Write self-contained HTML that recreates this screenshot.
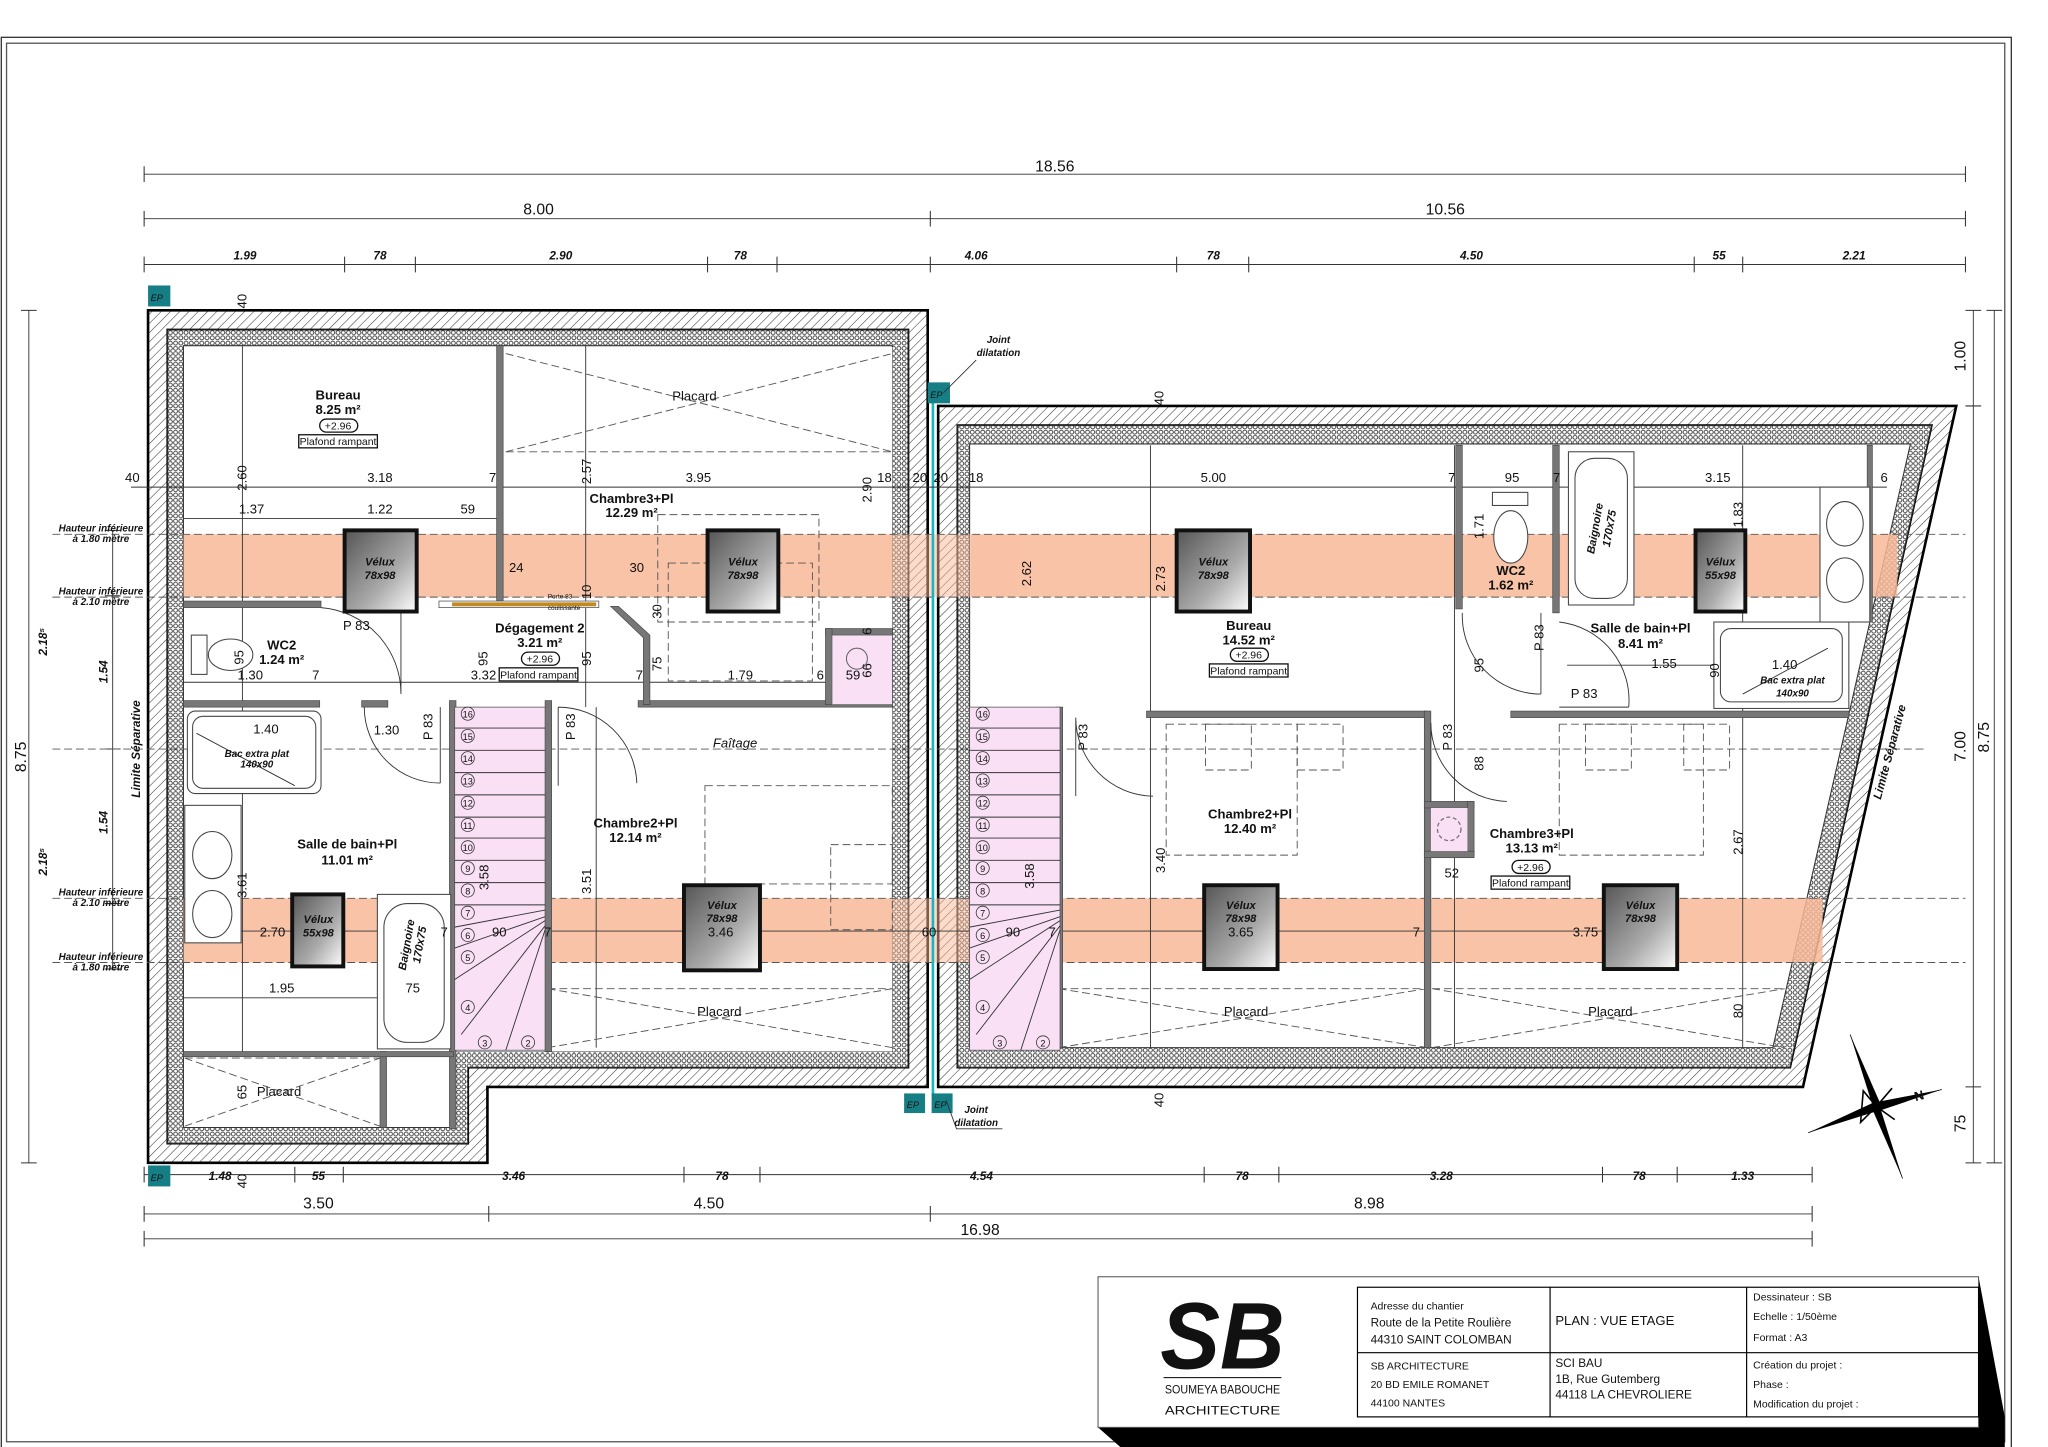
<!DOCTYPE html>
<html><head><meta charset="utf-8"><style>
html,body{margin:0;padding:0;background:#fff;}
svg{display:block;}
text{font-family:"Liberation Sans Narrow","Liberation Sans",sans-serif;fill:#111;}
.d{font-size:10px;}
.dl{font-size:12px;}
.di{font-size:9px;font-style:italic;font-weight:bold;}
.r{font-size:10px;font-weight:bold;}
.h{font-size:7.5px;font-style:italic;font-weight:bold;}
.v{font-size:8.5px;font-style:italic;font-weight:bold;fill:#111;}
.thin{stroke:#333;stroke-width:0.7;fill:none;}
.dash{stroke:#555;stroke-width:0.7;fill:none;stroke-dasharray:6 3;}
.wall{fill:#777;stroke:#444;stroke-width:0.5;}
.t{font-size:9px;font-family:"Liberation Sans",sans-serif;}
</style></head><body>
<svg width="2048" height="1447" viewBox="0 0 1563 1105" preserveAspectRatio="none" xmlns="http://www.w3.org/2000/svg">
<defs>
<pattern id="hat" width="5" height="5" patternUnits="userSpaceOnUse" patternTransform="rotate(45)">
<rect width="5" height="5" fill="#fff"/><line x1="0" y1="0" x2="0" y2="5" stroke="#333" stroke-width="0.8"/></pattern>
<pattern id="ins" width="4" height="4" patternUnits="userSpaceOnUse">
<rect width="4" height="4" fill="#fff"/><circle cx="2" cy="2" r="1.5" fill="none" stroke="#333" stroke-width="0.7"/></pattern>
<linearGradient id="vg" x1="0" y1="0" x2="1" y2="1"><stop offset="0" stop-color="#555"/><stop offset="0.6" stop-color="#aaa"/><stop offset="1" stop-color="#fff"/></linearGradient>
</defs>
<!-- frame -->
<rect x="1" y="28.5" width="1534" height="1078" fill="none" stroke="#333" stroke-width="1"/>
<rect x="5" y="33" width="1525" height="1068" fill="none" stroke="#555" stroke-width="1"/>

<!-- top dimensions -->
<g class="thin">
<line x1="110" y1="133" x2="1500" y2="133"/>
<line x1="110" y1="167" x2="1500" y2="167"/>
<line x1="110" y1="202" x2="1500" y2="202"/>
<line x1="110" y1="897" x2="1383" y2="897"/>
<line x1="110" y1="927" x2="1383" y2="927"/>
<line x1="110" y1="946" x2="1383" y2="946"/>
<line x1="22" y1="237" x2="22" y2="888"/>
<line x1="86" y1="405" x2="86" y2="740"/>
<line x1="1522" y1="237" x2="1522" y2="888"/>
<line x1="1506" y1="237" x2="1506" y2="888"/>
</g>
<g stroke="#333" stroke-width="0.8">
<path d="M110 127v12M1500 127v12M110 161v12M710 161v12M1500 161v12"/>
<path d="M110 196v12M263 196v12M317 196v12M540 196v12M593 196v12M710 196v12M898 196v12M953 196v12M1293 196v12M1330 196v12M1500 196v12"/>
<path d="M110 891v12M225 891v12M262 891v12M522 891v12M580 891v12M919 891v12M976 891v12M1223 891v12M1280 891v12M1383 891v12"/>
<path d="M110 921v12M373 921v12M710 921v12M1383 921v12M110 940v12M1383 940v12"/>
<path d="M16 237h12M16 888h12M80 405h12M80 455h12M80 572h12M80 690h12M80 740h12M1516 237h12M1516 888h12M1500 237h12M1500 310h12M1500 830h12M1500 888h12"/>
</g>
<text class="dl" x="805" y="131" text-anchor="middle">18.56</text>
<text class="dl" x="411" y="164" text-anchor="middle">8.00</text>
<text class="dl" x="1103" y="164" text-anchor="middle">10.56</text>
<g class="di" text-anchor="middle">
<text x="187" y="198">1.99</text><text x="290" y="198">78</text><text x="428" y="198">2.90</text><text x="565" y="198">78</text><text x="745" y="198">4.06</text><text x="926" y="198">78</text><text x="1123" y="198">4.50</text><text x="1312" y="198">55</text><text x="1415" y="198">2.21</text>
<text x="168" y="901">1.48</text><text x="243" y="901">55</text><text x="392" y="901">3.46</text><text x="551" y="901">78</text><text x="749" y="901">4.54</text><text x="948" y="901">78</text><text x="1100" y="901">3.28</text><text x="1251" y="901">78</text><text x="1330" y="901">1.33</text>
</g>
<text class="dl" x="243" y="923" text-anchor="middle">3.50</text>
<text class="dl" x="541" y="923" text-anchor="middle">4.50</text>
<text class="dl" x="1045" y="923" text-anchor="middle">8.98</text>
<text class="dl" x="748" y="943" text-anchor="middle">16.98</text>
<text class="dl" transform="translate(20,578) rotate(-90)" text-anchor="middle">8.75</text>
<text class="dl" transform="translate(1518,563) rotate(-90)" text-anchor="middle">8.75</text>
<text class="dl" transform="translate(1500,272) rotate(-90)" text-anchor="middle">1.00</text>
<text class="dl" transform="translate(1500,570) rotate(-90)" text-anchor="middle">7.00</text>
<text class="dl" transform="translate(1500,858) rotate(-90)" text-anchor="middle">75</text>
<g class="di" text-anchor="middle">
<text transform="translate(36,490) rotate(-90)">2.18⁵</text>
<text transform="translate(36,658) rotate(-90)">2.18⁵</text>
<text transform="translate(82,513) rotate(-90)">1.54</text>
<text transform="translate(82,628) rotate(-90)">1.54</text>
<text transform="translate(107,572) rotate(-90)">Limite Séparative</text>
<text transform="translate(1445,575) rotate(-75)">Limite Séparative</text>
</g>
<g class="h" text-anchor="middle">
<text x="77" y="406">Hauteur inférieure</text><text x="77" y="414">à 1.80 mètre</text>
<text x="77" y="454">Hauteur inférieure</text><text x="77" y="462">à 2.10 mètre</text>
<text x="77" y="684">Hauteur inférieure</text><text x="77" y="692">à 2.10 mètre</text>
<text x="77" y="733">Hauteur inférieure</text><text x="77" y="741">à 1.80 mètre</text>
</g>

<!-- walls -->
<path fill="url(#hat)" stroke="#000" stroke-width="2" fill-rule="evenodd" d="M113 237H708V830H372V888H113Z M128 252H693V815H357V873H128Z"/>
<path fill="url(#ins)" stroke="#333" stroke-width="0.8" fill-rule="evenodd" d="M128 252H693V815H357V873H128Z M140 264H681V803H346V861H140Z"/>
<path fill="url(#hat)" stroke="#000" stroke-width="2" fill-rule="evenodd" d="M716 310H1493L1376 830H716Z M731 325H1474L1366 815H731Z"/>
<path fill="url(#ins)" stroke="#333" stroke-width="0.8" fill-rule="evenodd" d="M731 325H1474L1366 815H731Z M740 339H1458L1353 800H740Z"/>
<rect x="141" y="265" width="540" height="538" fill="#fff"/>
<rect x="141" y="803" width="205" height="57" fill="#fff"/>
<path d="M741 340H1457L1352 799H741Z" fill="#fff"/>

<!-- salmon bands -->
<g fill="#f8b898" opacity="0.85">
<rect x="140" y="408" width="541" height="48"/><rect x="140" y="686" width="541" height="49"/>
<rect x="681" y="408" width="60" height="48" opacity="0.6"/><rect x="681" y="686" width="60" height="49" opacity="0.6"/>
<rect x="741" y="408" width="707" height="48"/><rect x="741" y="686" width="650" height="49"/>
</g>
<!-- dashed lines -->
<g class="dash">
<line x1="40" y1="408" x2="1500" y2="408"/><line x1="40" y1="456" x2="1500" y2="456"/>
<line x1="40" y1="686" x2="1500" y2="686"/><line x1="40" y1="735" x2="1500" y2="735"/>
<line x1="40" y1="572" x2="1470" y2="572"/>
</g>
<!-- joint -->
<line x1="712" y1="296" x2="712" y2="836" stroke="#19b5c0" stroke-width="2"/>
<g fill="#157f85">
<rect x="113" y="218" width="17" height="16"/><rect x="708" y="292" width="17" height="16"/><rect x="690" y="835" width="16" height="15"/><rect x="711" y="835" width="16" height="15"/><rect x="113" y="890" width="17" height="16"/>
</g>
<g font-size="7" font-style="italic" fill="#000"><text x="115" y="230">EP</text><text x="710" y="304">EP</text><text x="692" y="846">EP</text><text x="713" y="846">EP</text><text x="115" y="902">EP</text></g>
<g class="h" font-size="8"><text x="762" y="262" text-anchor="middle">Joint</text><text x="762" y="272" text-anchor="middle">dilatation</text>
<text x="745" y="850" text-anchor="middle">Joint</text><text x="745" y="860" text-anchor="middle">dilatation</text></g>
<path d="M745 275L720 300M722 840L730 862H765" class="thin"/>

<!-- thin dimension lines inside -->
<g class="thin">
<line x1="100" y1="372" x2="700" y2="372"/><line x1="700" y1="372" x2="1440" y2="372"/>
<line x1="140" y1="396" x2="380" y2="396"/>
<line x1="140" y1="521" x2="630" y2="521"/>
<line x1="140" y1="711" x2="1260" y2="711"/>
<line x1="140" y1="762" x2="345" y2="762"/>
<line x1="185" y1="264" x2="185" y2="803"/><line x1="372" y1="540" x2="372" y2="800"/>
<line x1="447" y1="264" x2="447" y2="540"/><line x1="455" y1="540" x2="455" y2="800"/>
<line x1="1110" y1="340" x2="1110" y2="800"/>
<line x1="878" y1="340" x2="878" y2="800"/>
<line x1="1330" y1="340" x2="1330" y2="800"/>
<line x1="1196" y1="508" x2="1411" y2="508"/>
</g>

<!-- placards X -->
<g class="dash" stroke-dasharray="5 2 1 2">
<path d="M386 270L681 345M386 345L681 270M386 345H681"/>
<path d="M418 755L681 800M418 800L681 755M418 755H681"/>
<path d="M141 808L290 860M141 860L290 808M141 808H290"/>
<path d="M808 755L1089 800M808 800L1089 755M808 755H1089"/>
<path d="M1093 755L1362 800M1093 800L1362 755M1093 755H1362"/>
</g>
<g class="d" text-anchor="middle"><text x="530" y="306">Placard</text><text x="549" y="776">Placard</text><text x="213" y="837">Placard</text><text x="951" y="776">Placard</text><text x="1229" y="776">Placard</text></g>

<!-- beds dashed -->
<g class="dash" stroke-dasharray="4 3">
<rect x="502" y="393" width="123" height="82"/><rect x="510" y="430" width="110" height="90"/>
<rect x="538" y="600" width="143" height="75"/><rect x="634" y="645" width="47" height="65"/>
<rect x="890" y="553" width="100" height="100"/><rect x="920" y="553" width="35" height="35"/><rect x="990" y="553" width="35" height="35"/>
<rect x="1190" y="553" width="110" height="100"/><rect x="1210" y="553" width="35" height="35"/><rect x="1285" y="553" width="35" height="35"/>
</g>

<!-- interior walls -->
<g class="wall">
<rect x="379" y="264" width="5" height="195"/>
<rect x="140" y="459" width="105" height="5"/>
<rect x="140" y="535" width="104" height="5"/>
<rect x="276" y="535" width="20" height="5"/>
<rect x="343" y="535" width="5" height="327"/>
<rect x="416" y="535" width="5" height="268"/>
<rect x="487" y="535" width="194" height="5"/>
<path d="M466 463L472 463L496 485L496 538L491 538L491 487Z"/>
<rect x="630" y="480" width="51" height="5"/><rect x="630" y="480" width="5" height="58"/>
<rect x="290" y="803" width="5" height="58"/><rect x="140" y="803" width="206" height="4"/>
<rect x="806" y="540" width="5" height="260"/>
<rect x="875" y="543" width="214" height="5"/><rect x="1087" y="543" width="5" height="257"/>
<rect x="1153" y="543" width="258" height="5"/>
<rect x="1111" y="340" width="5" height="125"/><rect x="1185" y="340" width="5" height="128"/>
<rect x="1425" y="340" width="4" height="135"/>
<rect x="1087" y="612" width="38" height="5"/><rect x="1120" y="612" width="5" height="42"/><rect x="1087" y="650" width="38" height="5"/>
</g>
<rect x="635" y="485" width="46" height="53" fill="#f9e0f5" stroke="#666" stroke-width="0.5"/>
<circle cx="654" cy="503" r="8" fill="none" stroke="#666" stroke-width="0.8"/>
<rect x="1092" y="617" width="28" height="33" fill="#f9e0f5"/>
<circle cx="1106" cy="633" r="9" fill="none" stroke="#777" stroke-dasharray="3 2"/>
<!-- sliding door -->
<rect x="335" y="459" width="122" height="5" fill="#fff" stroke="#555" stroke-width="0.6"/>
<rect x="345" y="460" width="110" height="3" fill="#c08a20"/>
<text x="418" y="457" font-size="5">Porte 83</text><text x="418" y="466" font-size="5">coulissante</text>

<!-- doors -->
<g class="thin">
<path d="M245 464A66 66 0 0 1 306 530M306 462V530"/>
<path d="M278 540A58 58 0 0 0 336 598M336 540V598"/>
<path d="M426 540A60 60 0 0 1 486 598M426 540V600"/>
<path d="M821 548A60 60 0 0 0 880 608M821 548V608"/>
<path d="M1092 552A60 60 0 0 0 1150 612M1092 552V612"/>
<path d="M1116 468A60 60 0 0 0 1176 530M1176 468V530"/>
<path d="M1190 475A60 60 0 0 1 1243 540M1190 540H1243"/>
</g>

<!-- stairs -->
<g id="st">
<rect x="347" y="540" width="69" height="262" fill="#f9e0f5" stroke="#555" stroke-width="0.6"/>
<g class="thin" stroke="#666">
<path d="M347 556H416M347 573H416M347 590H416M347 607H416M347 624H416M347 640H416M347 657H416M347 674H416M347 691H416"/>
<path d="M416 695L347 708M416 700L347 724M416 703L347 748M416 707L352 790M416 710L386 802"/>
</g>
<g font-size="7" text-anchor="middle" fill="none" stroke="#333" stroke-width="0.6">
<circle cx="357" cy="545" r="5"/><circle cx="357" cy="562" r="5"/><circle cx="357" cy="579" r="5"/><circle cx="357" cy="596" r="5"/><circle cx="357" cy="613" r="5"/><circle cx="357" cy="630" r="5"/><circle cx="357" cy="647" r="5"/><circle cx="357" cy="663" r="5"/><circle cx="357" cy="680" r="5"/><circle cx="357" cy="697" r="5"/><circle cx="357" cy="714" r="5"/><circle cx="357" cy="731" r="5"/><circle cx="357" cy="769" r="5"/><circle cx="370" cy="796" r="5"/><circle cx="403" cy="796" r="5"/>
</g>
<g font-size="7" text-anchor="middle">
<text x="357" y="548">16</text><text x="357" y="565">15</text><text x="357" y="582">14</text><text x="357" y="599">13</text><text x="357" y="616">12</text><text x="357" y="633">11</text><text x="357" y="650">10</text><text x="357" y="666">9</text><text x="357" y="683">8</text><text x="357" y="700">7</text><text x="357" y="717">6</text><text x="357" y="734">5</text><text x="357" y="772">4</text><text x="370" y="799">3</text><text x="403" y="799">2</text>
</g>
</g>
<use href="#st" x="393" y="0"/>

<!-- sanitary left -->
<g fill="#fff" stroke="#444" stroke-width="0.8">
<rect x="143" y="543" width="102" height="63" rx="6"/><rect x="147" y="547" width="94" height="55" rx="8"/>
<rect x="141" y="615" width="43" height="105"/>
<ellipse cx="162" cy="653" rx="15" ry="18"/><ellipse cx="162" cy="698" rx="15" ry="18"/>
<rect x="288" y="683" width="56" height="118"/><rect x="293" y="690" width="46" height="106" rx="18"/>
<rect x="146" y="485" width="12" height="30"/><ellipse cx="176" cy="500" rx="17" ry="12"/>
<rect x="1308" y="475" width="103" height="66"/><rect x="1313" y="480" width="93" height="56" rx="8"/>
<rect x="1389" y="372" width="38" height="103"/>
<ellipse cx="1408" cy="400" rx="14" ry="17"/><ellipse cx="1408" cy="443" rx="14" ry="17"/>
<rect x="1197" y="345" width="50" height="117"/><rect x="1202" y="350" width="40" height="107" rx="15"/>
<rect x="1139" y="376" width="27" height="10"/><ellipse cx="1153" cy="410" rx="13" ry="20"/>
</g>
<path d="M150 560L225 600M1330 530L1395 495" class="thin"/>
<text x="196" y="578" class="h" font-size="6.5" text-anchor="middle">Bac extra plat</text><text x="196" y="586" class="h" font-size="6" text-anchor="middle">140x90</text>
<text x="1368" y="522" class="h" font-size="6.5" text-anchor="middle">Bac extra plat</text><text x="1368" y="532" class="h" font-size="6" text-anchor="middle">140x90</text>
<text class="v" transform="translate(313,722) rotate(-80)" text-anchor="middle">Baignoire</text><text class="v" transform="translate(323,722) rotate(-80)" text-anchor="middle">170x75</text>
<text class="v" transform="translate(1220,404) rotate(-80)" text-anchor="middle">Baignoire</text><text class="v" transform="translate(1231,404) rotate(-80)" text-anchor="middle">170x75</text>

<!-- velux -->
<g stroke="#111" stroke-width="3" fill="url(#vg)">
<rect x="263" y="405" width="55" height="62"/><rect x="540" y="405" width="54" height="62"/>
<rect x="223" y="683" width="39" height="55"/><rect x="522" y="676" width="58" height="65"/>
<rect x="898" y="405" width="56" height="62"/><rect x="1294" y="405" width="38" height="62"/>
<rect x="919" y="676" width="56" height="64"/><rect x="1224" y="676" width="56" height="64"/>
</g>
<g class="v" text-anchor="middle">
<text x="290" y="432">Vélux</text><text x="290" y="442">78x98</text>
<text x="567" y="432">Vélux</text><text x="567" y="442">78x98</text>
<text x="243" y="705">Vélux</text><text x="243" y="715">55x98</text>
<text x="551" y="694">Vélux</text><text x="551" y="704">78x98</text>
<text x="926" y="432">Vélux</text><text x="926" y="442">78x98</text>
<text x="1313" y="432">Vélux</text><text x="1313" y="442">55x98</text>
<text x="947" y="694">Vélux</text><text x="947" y="704">78x98</text>
<text x="1252" y="694">Vélux</text><text x="1252" y="704">78x98</text>
</g>

<!-- room labels -->
<g class="r" text-anchor="middle">
<text x="258" y="305">Bureau</text><text x="258" y="316">8.25 m²</text>
<text x="482" y="384">Chambre3+Pl</text><text x="482" y="395">12.29 m²</text>
<text x="412" y="483">Dégagement 2</text><text x="412" y="494">3.21 m²</text>
<text x="215" y="496">WC2</text><text x="215" y="507">1.24 m²</text>
<text x="265" y="648">Salle de bain+Pl</text><text x="265" y="660">11.01 m²</text>
<text x="485" y="632">Chambre2+Pl</text><text x="485" y="643">12.14 m²</text>
<text x="953" y="481">Bureau</text><text x="953" y="492">14.52 m²</text>
<text x="1153" y="439">WC2</text><text x="1153" y="450">1.62 m²</text>
<text x="1252" y="483">Salle de bain+Pl</text><text x="1252" y="495">8.41 m²</text>
<text x="954" y="625">Chambre2+Pl</text><text x="954" y="636">12.40 m²</text>
<text x="1169" y="640">Chambre3+Pl</text><text x="1169" y="651">13.13 m²</text>
</g>
<text x="561" y="571" class="d" font-style="italic" text-anchor="middle">Faîtage</text>
<g fill="#fff" stroke="#111" stroke-width="1">
<rect x="244" y="320" width="29" height="10" rx="5"/><rect x="228" y="332" width="60" height="10"/>
<rect x="398" y="498" width="29" height="10" rx="5"/><rect x="381" y="510" width="60" height="10"/>
<rect x="939" y="495" width="29" height="10" rx="5"/><rect x="923" y="507" width="60" height="10"/>
<rect x="1154" y="657" width="29" height="10" rx="5"/><rect x="1138" y="669" width="60" height="10"/>
</g>
<g font-size="8" text-anchor="middle">
<text x="258" y="328">+2.96</text><text x="258" y="340">Plafond rampant</text>
<text x="412" y="506">+2.96</text><text x="411" y="518">Plafond rampant</text>
<text x="953" y="503">+2.96</text><text x="953" y="515">Plafond rampant</text>
<text x="1168" y="665">+2.96</text><text x="1168" y="677">Plafond rampant</text>
</g>

<!-- inner dimension numbers -->
<g class="d" text-anchor="middle">
<text x="101" y="368">40</text><text x="290" y="368">3.18</text><text x="376" y="368">7</text><text x="533" y="368">3.95</text><text x="675" y="368">18</text><text x="702" y="368">20</text><text x="718" y="368">20</text><text x="745" y="368">18</text><text x="926" y="368">5.00</text><text x="1108" y="368">7</text><text x="1154" y="368">95</text><text x="1188" y="368">7</text><text x="1311" y="368">3.15</text><text x="1438" y="368">6</text>
<text x="192" y="392">1.37</text><text x="290" y="392">1.22</text><text x="357" y="392">59</text>
<text x="394" y="437">24</text><text x="486" y="437">30</text>
<text x="191" y="519">1.30</text><text x="369" y="519">3.32</text><text x="488" y="519">7</text><text x="565" y="519">1.79</text><text x="626" y="519">6</text><text x="651" y="519">59</text><text x="241" y="519">7</text>
<text x="254" y="501"></text><text x="203" y="560">1.40</text><text x="295" y="561">1.30</text>
<text x="208" y="715">2.70</text><text x="339" y="715">7</text><text x="381" y="715">90</text><text x="418" y="715">7</text><text x="550" y="715">3.46</text><text x="709" y="715">60</text><text x="773" y="715">90</text><text x="803" y="715">7</text><text x="947" y="715">3.65</text><text x="1081" y="715">7</text><text x="1210" y="715">3.75</text>
<text x="215" y="758">1.95</text><text x="315" y="758">75</text>
<text x="1270" y="510">1.55</text><text x="1362" y="511">1.40</text><text x="1209" y="533">P 83</text><text x="1108" y="670">52</text><text x="272" y="481">P 83</text>
</g>
<g class="d" text-anchor="middle">
<text transform="translate(188,230) rotate(-90)">40</text>
<text transform="translate(188,365) rotate(-90)">2.60</text>
<text transform="translate(451,360) rotate(-90)">2.57</text>
<text transform="translate(665,374) rotate(-90)">2.90</text>
<text transform="translate(888,304) rotate(-90)">40</text>
<text transform="translate(888,840) rotate(-90)">40</text>
<text transform="translate(787,438) rotate(-90)">2.62</text>
<text transform="translate(889,442) rotate(-90)">2.73</text>
<text transform="translate(1132,402) rotate(-90)">1.71</text>
<text transform="translate(1330,393) rotate(-90)">1.83</text>
<text transform="translate(1132,508) rotate(-90)">95</text>
<text transform="translate(1132,583) rotate(-90)">88</text>
<text transform="translate(889,657) rotate(-90)">3.40</text>
<text transform="translate(789,669) rotate(-90)">3.58</text>
<text transform="translate(373,670) rotate(-90)">3.58</text>
<text transform="translate(451,673) rotate(-90)">3.51</text>
<text transform="translate(188,676) rotate(-90)">3.61</text>
<text transform="translate(1330,643) rotate(-90)">2.67</text>
<text transform="translate(1330,772) rotate(-90)">80</text>
<text transform="translate(188,834) rotate(-90)">65</text>
<text transform="translate(188,902) rotate(-90)">40</text>
<text transform="translate(372,503) rotate(-90)">95</text>
<text transform="translate(451,503) rotate(-90)">95</text>
<text transform="translate(451,452) rotate(-90)">10</text>
<text transform="translate(505,467) rotate(-90)">30</text>
<text transform="translate(505,507) rotate(-90)">75</text>
<text transform="translate(665,482) rotate(-90)">6</text>
<text transform="translate(665,512) rotate(-90)">66</text>
<text transform="translate(186,502) rotate(-90)">95</text>
<text transform="translate(330,555) rotate(-90)">P 83</text>
<text transform="translate(439,555) rotate(-90)">P 83</text>
<text transform="translate(830,563) rotate(-90)">P 83</text>
<text transform="translate(1108,563) rotate(-90)">P 83</text>
<text transform="translate(1178,487) rotate(-90)">P 83</text>
<text transform="translate(1312,512) rotate(-90)">90</text>
</g>

<!-- compass -->
<g transform="translate(1432,845)">
<path d="M-20 -55L4 0L-2 2Z" fill="#000"/><path d="M20 55L-4 0L2 -2Z" fill="#000"/>
<path d="M-52 20L0 -4L2 3Z" fill="#000"/><path d="M50 -13L0 4L-2 -3Z" fill="#000"/>
<path d="M-20 -55L0 0M20 55L0 0M-52 20L0 0M50 -13L0 0" stroke="#000" stroke-width="0.6"/>
<path d="M-10 -12L0 0L12 -14L0 0L14 10L0 0L-12 12Z" fill="none" stroke="#000" stroke-width="1.2"/>
<text x="30" y="-4" font-size="10" font-weight="bold" transform="rotate(-15 30 -4)">N</text>
</g>

<!-- title block -->
<path d="M838 1090L855 1105H1530L1530 1082L1510 975V1090Z" fill="#000"/>
<rect x="838" y="975" width="672" height="115" fill="#fff" stroke="#555" stroke-width="0.8"/>
<rect x="1036" y="983" width="474" height="99" fill="none" stroke="#000" stroke-width="0.9"/>
<path d="M1036 1033H1510M1183 983V1082M1333 983V1082" stroke="#000" stroke-width="0.9"/>
<text x="933" y="1045" font-family="Liberation Sans" font-size="72" font-weight="bold" font-style="italic" text-anchor="middle" textLength="95" lengthAdjust="spacingAndGlyphs">SB</text>
<line x1="888" y1="1052" x2="978" y2="1052" stroke="#000" stroke-width="0.8"/>
<text x="933" y="1064" class="t" font-size="8" text-anchor="middle" textLength="88" lengthAdjust="spacingAndGlyphs">SOUMEYA BABOUCHE</text>
<text x="933" y="1080" class="t" font-size="13" text-anchor="middle" textLength="88" lengthAdjust="spacingAndGlyphs">ARCHITECTURE</text>
<g class="t">
<text x="1046" y="1000" font-size="8">Adresse du chantier</text>
<text x="1046" y="1013">Route de la Petite Roulière</text>
<text x="1046" y="1026">44310 SAINT COLOMBAN</text>
<text x="1046" y="1046" font-size="8">SB ARCHITECTURE</text>
<text x="1046" y="1060" font-size="8">20 BD EMILE ROMANET</text>
<text x="1046" y="1074" font-size="8">44100 NANTES</text>
<text x="1187" y="1012" font-size="10">PLAN : VUE ETAGE</text>
<text x="1187" y="1044">SCI BAU</text>
<text x="1187" y="1056">1B, Rue Gutemberg</text>
<text x="1187" y="1068">44118 LA CHEVROLIERE</text>
<text x="1338" y="993" font-size="8">Dessinateur : SB</text>
<text x="1338" y="1008" font-size="8">Echelle : 1/50ème</text>
<text x="1338" y="1024" font-size="8">Format : A3</text>
<text x="1338" y="1045" font-size="8">Création du projet :</text>
<text x="1338" y="1060" font-size="8">Phase :</text>
<text x="1338" y="1075" font-size="8">Modification du projet :</text>
</g>
</svg>
</body></html>
